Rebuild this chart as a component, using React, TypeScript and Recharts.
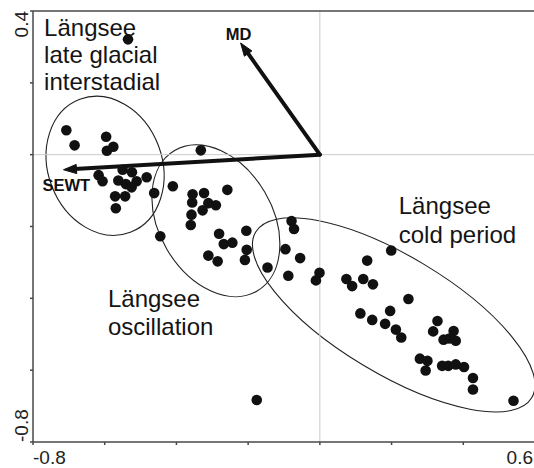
import React from 'react';
import {
  ScatterChart,
  Scatter,
  XAxis,
  YAxis,
  ReferenceLine,
  ReferenceArea,
  ReferenceDot,
} from 'recharts';

const FONT = '"Liberation Sans", Arial, Helvetica, sans-serif';

// Axis extents and ticks (only the end ticks carry a label)
const X_DOMAIN: [number, number] = [-0.8, 0.6];
const Y_DOMAIN: [number, number] = [-0.8, 0.4];
const X_TICKS = [-0.8, -0.6, -0.4, -0.2, 0, 0.2, 0.4, 0.6];
const Y_TICKS = [-0.8, -0.6, -0.4, -0.2, 0, 0.2, 0.4];
const X_TICK_LABELS = ['-0.8', '0.6'];
const Y_TICK_LABELS = ['-0.8', '0.4'];

// Sample scores on the first two ordination axes, grouped by period
const lateGlacialSamples: [number, number][] = [
  [-0.535, 0.321], [-0.707, 0.068], [-0.684, 0.026], [-0.596, 0.05], [-0.576, 0.022],
  [-0.594, 0.011], [-0.55, -0.042], [-0.524, -0.049], [-0.617, -0.057], [-0.606, -0.074],
  [-0.562, -0.072], [-0.541, -0.082], [-0.511, -0.074], [-0.525, -0.091], [-0.483, -0.063],
  [-0.571, -0.116], [-0.543, -0.116], [-0.569, -0.149],
];

const oscillationSamples: [number, number][] = [
  [-0.462, -0.107], [-0.41, -0.088], [-0.445, -0.227], [-0.332, 0.012], [-0.355, -0.11],
  [-0.323, -0.107], [-0.258, -0.098], [-0.356, -0.133], [-0.311, -0.135], [-0.29, -0.141],
  [-0.327, -0.155], [-0.358, -0.167], [-0.36, -0.196], [-0.281, -0.22], [-0.205, -0.212],
  [-0.268, -0.249], [-0.244, -0.245], [-0.204, -0.265], [-0.311, -0.281], [-0.285, -0.297],
  [-0.209, -0.293],
];

const coldPeriodSamples: [number, number][] = [
  [-0.146, -0.314], [-0.079, -0.185], [-0.072, -0.207], [-0.096, -0.263], [-0.055, -0.288],
  [-0.088, -0.337], [-0.001, -0.329], [-0.011, -0.35], [0.074, -0.346], [0.09, -0.366],
  [0.121, -0.346], [0.148, -0.361], [0.132, -0.295], [0.199, -0.267], [0.247, -0.402],
  [0.113, -0.442], [0.146, -0.46], [0.196, -0.435], [0.182, -0.471], [0.212, -0.487],
  [0.227, -0.509], [0.328, -0.463], [0.316, -0.492], [0.373, -0.491], [0.345, -0.515],
  [0.361, -0.512], [0.379, -0.518], [0.279, -0.568], [0.3, -0.574], [0.295, -0.601],
  [0.341, -0.588], [0.358, -0.588], [0.379, -0.584], [0.402, -0.591], [0.427, -0.622],
  [0.427, -0.654], [0.54, -0.685],
];

const otherSamples: [number, number][] = [[-0.176, -0.683]];

// Environmental variable vectors (from the origin)
const envNames = ['MD', 'SEWT'];
const envX = [-0.221, -0.715];
const envY = [0.311, -0.042];

// Group ellipses: centre, semi-axes (data units) and tilt in degrees
const ellipseCx = [-0.599, -0.29, 0.206];
const ellipseCy = [-0.031, -0.184, -0.446];
const ellipseRx = [0.159, 0.158, 0.449];
const ellipseRy = [0.198, 0.227, 0.164];
const ellipseTilt = [-20.8, -30.4, 31];

// Period captions
const captionLines = [
  ['Längsee', 'late glacial', 'interstadial'],
  ['Längsee', 'oscillation'],
  ['Längsee', 'cold period'],
];
const captionX = [-0.769, -0.591, 0.22];
const captionY = [0.33, -0.425, -0.164];
const captionGap = [26.8, 27.4, 29.5];

// Vector label offsets (px) from the arrow tip
const envLabelOffset: Record<string, { dx: number; dy: number; anchor: 'start' | 'middle' | 'end' }> = {
  MD: { dx: -2, dy: -3, anchor: 'middle' },
  SEWT: { dx: -21, dy: 21.5, anchor: 'start' },
};

const toPoints = (arr: [number, number][]) => arr.map(([x, y]) => ({ x, y }));

const Dot = (p: any) =>
  p.cx == null ? <g /> : <circle cx={p.cx} cy={p.cy} r={5.3} fill="#111" />;

const XTick = (p: any) => {
  const label = String(p.payload.value);
  if (!X_TICK_LABELS.includes(label)) return <g />;
  const isFirst = label === X_TICK_LABELS[0];
  return (
    <text
      x={isFirst ? p.x : p.x - 2}
      y={p.y + 17}
      textAnchor={isFirst ? 'start' : 'end'}
      fontFamily={FONT}
      fontSize={19}
      fill="#222"
    >
      {label}
    </text>
  );
};

const YTick = (p: any) => {
  const label = String(p.payload.value);
  if (!Y_TICK_LABELS.includes(label)) return <g />;
  const isBottom = label === Y_TICK_LABELS[0];
  return (
    <text
      x={p.x}
      y={p.y}
      transform={`rotate(-90, ${p.x}, ${p.y})`}
      textAnchor={isBottom ? 'start' : 'end'}
      fontFamily={FONT}
      fontSize={19}
      fill="#222"
    >
      {label}
    </text>
  );
};

const makeArrow = (name: string) => (p: any) => {
  const { x1, y1, x2, y2 } = p;
  if ([x1, y1, x2, y2].some((v) => v == null || Number.isNaN(v))) return <g />;
  const dx = x2 - x1;
  const dy = y2 - y1;
  const len = Math.hypot(dx, dy) || 1;
  const ux = dx / len;
  const uy = dy / len;
  const headLen = 13;
  const headHalf = 4.6;
  const bx = x2 - ux * headLen;
  const by = y2 - uy * headLen;
  const lx = bx - uy * headHalf;
  const ly = by + ux * headHalf;
  const rx = bx + uy * headHalf;
  const ry = by - ux * headHalf;
  const off = envLabelOffset[name];
  return (
    <g>
      <line
        x1={x1}
        y1={y1}
        x2={bx + ux * 2}
        y2={by + uy * 2}
        stroke="#111"
        strokeWidth={4}
        strokeLinecap="round"
      />
      <polygon points={`${x2},${y2} ${lx},${ly} ${rx},${ry}`} fill="#111" stroke="#111" strokeWidth={1} strokeLinejoin="round" />
      <text
        x={x2 + off.dx}
        y={y2 + off.dy}
        textAnchor={off.anchor}
        fontFamily={FONT}
        fontWeight="bold"
        fontSize={16.5}
        fill="#111"
      >
        {name}
      </text>
    </g>
  );
};

const makeEllipse = (tilt: number) => (p: any) => {
  const { x, y, width, height } = p;
  if ([x, y, width, height].some((v) => v == null || Number.isNaN(v))) return <g />;
  const cx = x + width / 2;
  const cy = y + height / 2;
  return (
    <ellipse
      cx={cx}
      cy={cy}
      rx={Math.abs(width) / 2}
      ry={Math.abs(height) / 2}
      transform={`rotate(${tilt}, ${cx}, ${cy})`}
      fill="none"
      stroke="#222"
      strokeWidth={1.1}
    />
  );
};

const makeCaption = (lines: string[], gap: number) => (p: any) => {
  if (p.cx == null) return <g />;
  return (
    <text x={p.cx} y={p.cy} fontFamily={FONT} fontSize={24} fill="#141414">
      {lines.map((ln, i) => (
        <tspan key={i} x={p.cx} y={p.cy + i * gap}>
          {ln}
        </tspan>
      ))}
    </text>
  );
};

const axisStroke = { stroke: '#484848', strokeWidth: 1.5 };

export default function App() {
  return (
    <div
      style={{
        position: 'absolute',
        left: 0,
        top: 0,
        width: 534,
        height: 468,
        overflow: 'hidden',
        background: '#fff',
      }}
    >
      <ScatterChart width={540} height={468} margin={{ top: 11, right: 5, bottom: 0, left: 0 }}>
        <XAxis
          type="number"
          dataKey="x"
          domain={X_DOMAIN}
          ticks={X_TICKS}
          interval={0}
          tickSize={3}
          height={26}
          axisLine={axisStroke}
          tickLine={axisStroke}
          tick={XTick}
          allowDataOverflow
        />
        <YAxis
          type="number"
          dataKey="y"
          domain={Y_DOMAIN}
          ticks={Y_TICKS}
          interval={0}
          tickSize={3}
          width={33}
          axisLine={axisStroke}
          tickLine={axisStroke}
          tick={YTick}
          allowDataOverflow
        />
        <ReferenceLine x={0} stroke="#cacaca" strokeWidth={1} />
        <ReferenceLine y={0} stroke="#cacaca" strokeWidth={1} />
        <ReferenceLine y={Y_DOMAIN[1]} stroke="#484848" strokeWidth={1.5} />

        {ellipseCx.map((cx, i) => (
          <ReferenceArea
            key={`ell-${i}`}
            x1={cx - ellipseRx[i]}
            x2={cx + ellipseRx[i]}
            y1={ellipseCy[i] - ellipseRy[i]}
            y2={ellipseCy[i] + ellipseRy[i]}
            ifOverflow="visible"
            shape={makeEllipse(ellipseTilt[i])}
          />
        ))}

        {envNames.map((name, i) => (
          <ReferenceLine
            key={`env-${name}`}
            segment={[
              { x: 0, y: 0 },
              { x: envX[i], y: envY[i] },
            ]}
            ifOverflow="visible"
            shape={makeArrow(name)}
          />
        ))}

        {captionLines.map((lines, i) => (
          <ReferenceDot
            key={`cap-${i}`}
            x={captionX[i]}
            y={captionY[i]}
            r={0}
            ifOverflow="visible"
            shape={makeCaption(lines, captionGap[i])}
          />
        ))}

        <Scatter data={toPoints(lateGlacialSamples)} shape={Dot} isAnimationActive={false} />
        <Scatter data={toPoints(oscillationSamples)} shape={Dot} isAnimationActive={false} />
        <Scatter data={toPoints(coldPeriodSamples)} shape={Dot} isAnimationActive={false} />
        <Scatter data={toPoints(otherSamples)} shape={Dot} isAnimationActive={false} />
      </ScatterChart>
    </div>
  );
}
